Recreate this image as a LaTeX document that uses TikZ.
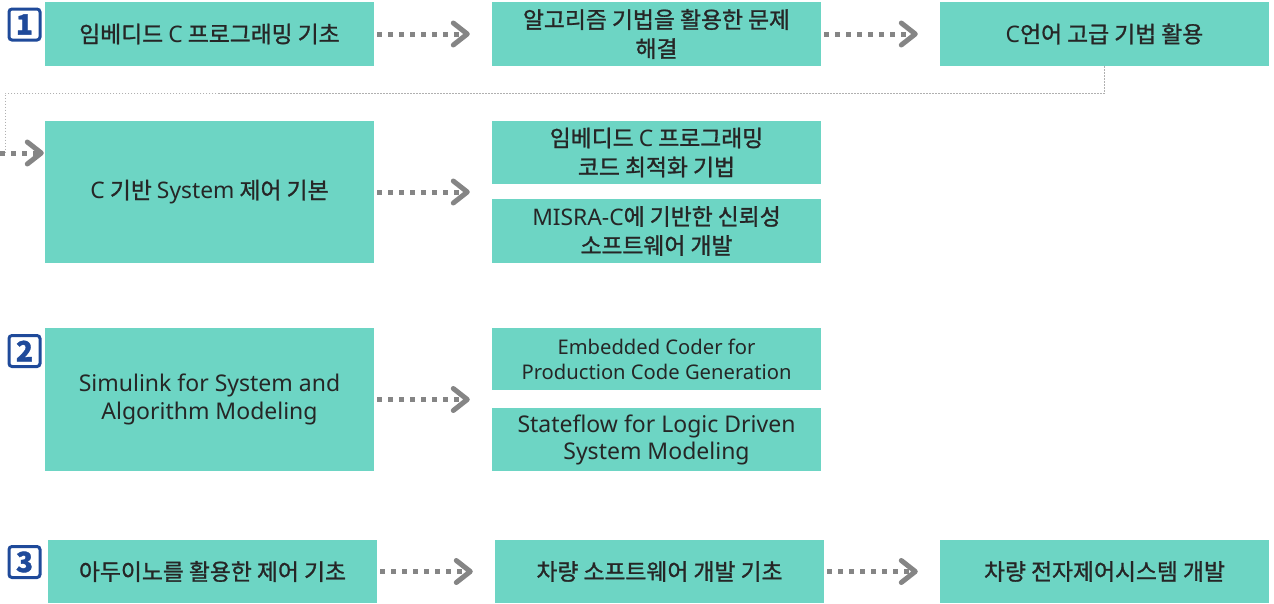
\documentclass[tikz,border=0pt]{standalone}
\usepackage{fontspec}
\setmainfont{Noto Sans CJK KR}[RawFeature={embolden=1.2}]
\newfontfamily\en{Noto Sans}
\usetikzlibrary{arrows.meta}
\definecolor{boxfill}{HTML}{6DD5C4}
\definecolor{txt}{HTML}{262626}
\definecolor{arr}{HTML}{858585}
\definecolor{thinc}{HTML}{B0B0B0}
\definecolor{badgeblue}{HTML}{1F4A9A}
\tikzset{
  box/.style={fill=boxfill, draw=none, inner sep=0pt, minimum width=329pt, text=txt, align=center,
    font=\fontsize{22.8pt}{29pt}\selectfont},
  badge/.style={draw=badgeblue, line width=3pt, rounded corners=3pt, fill=white, minimum size=31pt,
    inner sep=0pt, text=badgeblue, font=\fontsize{28pt}{28pt}\selectfont\bfseries},
  flow/.style={draw=arr, line width=5pt, dash pattern=on 5pt off 6pt,
    -{Straight Barb[length=14pt,width=22pt,round]}, shorten <=3pt, shorten >=22pt},
  thinline/.style={draw=thinc, line width=1pt, dash pattern=on 1.5pt off 1.5pt}
}
\begin{document}
\begin{tikzpicture}[x=1pt,y=-1pt]
\useasboundingbox (0,0) rectangle (1274,603);
% section 1
\node[badge] (b1) at (24.5,24.5) {1};
\node[box, minimum height=64pt] (A) at (209.5,34) {임베디드 {\en C} 프로그래밍 기초};
\node[box, minimum height=64pt] (B) at (656.5,34) {알고리즘 기법을 활용한 문제\\해결};
\node[box, minimum height=64pt] (C) at (1104.5,34) {{\en C}언어 고급 기법 활용};
\node[box, minimum height=142pt] (D) at (209.5,192) {{\en C} 기반 {\en System} 제어 기본};
\node[box, minimum height=63pt] (E) at (656.5,152.5) {임베디드 {\en C} 프로그래밍\\코드 최적화 기법};
\node[box, minimum height=64pt] (F) at (656.5,231) {{\en MISRA-C}에 기반한 신뢰성\\소프트웨어 개발};
\coordinate (entry) at (5,153);
\coordinate (entrystart) at (0,153);
\draw[flow] (A) -- (B);
\draw[flow] (B) -- (C);
\draw[thinline] (C.south) -- ++(0,27) -| (entry);
\draw[flow, shorten <=0pt, shorten >=1pt] (entrystart) -- (entry -| D.west);
\draw[flow] (D) -- (D -| E.west);
% section 2
\node[badge] (b2) at (24.5,351) {2};
\node[box, minimum height=143pt, font=\en\fontsize{23pt}{28pt}\selectfont] (G) at (209.5,399.5) {Simulink for System and\\Algorithm Modeling};
\node[box, minimum height=62pt, font=\en\fontsize{20.2pt}{25pt}\selectfont] (H) at (656.5,359) {Embedded Coder for\\Production Code Generation};
\node[box, minimum height=63pt, font=\en\fontsize{23pt}{27pt}\selectfont] (I) at (656.5,439.5) {Stateflow for Logic Driven\\System Modeling};
\draw[flow] (G) -- (G -| H.west);
% section 3
\node[badge] (b3) at (24.5,562) {3};
\node[box, minimum height=63pt] (J) at (212.5,571.5) {아두이노를 활용한 제어 기초};
\node[box, minimum height=63pt] (K) at (659.5,571.5) {차량 소프트웨어 개발 기초};
\node[box, minimum height=63pt] (L) at (1104.5,571.5) {차량 전자제어시스템 개발};
\draw[flow] (J) -- (K);
\draw[flow] (K) -- (L);
\end{tikzpicture}
\end{document}
